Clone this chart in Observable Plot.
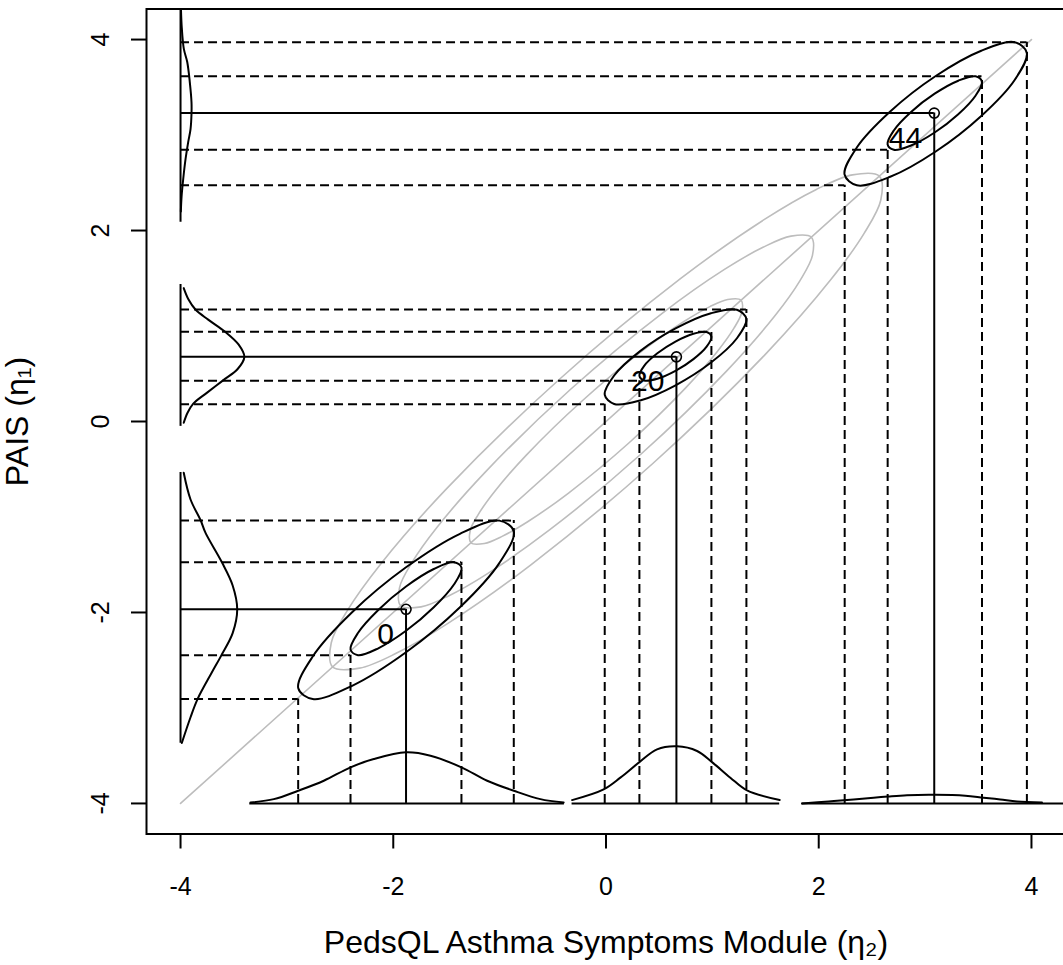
<!DOCTYPE html>
<html>
<head>
<meta charset="utf-8">
<script src="https://cdn.jsdelivr.net/npm/d3@7"></script>
<script src="https://cdn.jsdelivr.net/npm/@observablehq/plot@0.6"></script>
<style>
  html, body { margin: 0; padding: 0; background: #fff; overflow: hidden; }
</style>
</head>
<body>
<div id="chart"></div>
<script>
// ---------- data ----------
const groups   = ["0", "20", "44"];
const centerX  = [-1.880, 0.662, 3.086];
const centerY  = [-1.967, 0.677, 3.230];
const xOuterLo = [-2.894, -0.012, 2.244];
const xInnerLo = [-2.402,  0.314, 2.648];
const xInnerHi = [-1.359,  0.991, 3.535];
const xOuterHi = [-0.867,  1.320, 3.957];
const yOuterLo = [-2.906,  0.180, 2.474];
const yInnerLo = [-2.447,  0.428, 2.845];
const yInnerHi = [-1.474,  0.939, 3.615];
const yOuterHi = [-1.038,  1.173, 3.972];

const xTicks = [-4, -2, 0, 2, 4];
const yTicks = [-4, -2, 0, 2, 4];
const baseValue = -4;           // the density baselines sit on x = -4 and y = -4
const diagonal = [[-4, -4], [4, 4]];

// marginal densities along the left edge (y position, height)
const leftDensY = [
  [-0.537, -0.817, -1.037, -1.167, -1.477, -1.717, -1.967, -2.217, -2.457, -2.637, -2.907, -3.097, -3.367],
  [1.397, 1.277, 1.173, 1.067, 0.939, 0.807, 0.677, 0.547, 0.431, 0.302, 0.187, 0.092, -0.013],
  [4.32, 4.119, 3.902, 3.765, 3.555, 3.345, 3.220, 3.062, 2.926, 2.747, 2.537, 2.360, 2.200]
];
const leftDensH = [
  [0.03, 0.094, 0.19, 0.235, 0.39, 0.49, 0.533, 0.49, 0.38, 0.29, 0.16, 0.094, 0.012],
  [0.03, 0.075, 0.14, 0.26, 0.42, 0.545, 0.60, 0.535, 0.40, 0.25, 0.12, 0.066, 0.03],
  [0.004, 0.012, 0.031, 0.063, 0.087, 0.103, 0.103, 0.094, 0.072, 0.047, 0.025, 0.010, 0.003]
];
const leftBaseLo = [-3.370, -0.051, 2.086];
const leftBaseHi = [-0.534,  1.435, 4.400];

// marginal densities along the bottom edge (x position, height)
const bottomDensX = [
  [-3.342, -3.123, -2.894, -2.653, -2.402, -2.183, -1.879, -1.650, -1.359, -1.117, -0.867, -0.617, -0.398],
  [-0.319, -0.022, 0.135, 0.314, 0.480, 0.668, 0.856, 0.997, 1.169, 1.326, 1.633],
  [1.843, 2.093, 2.328, 2.516, 2.651, 2.830, 3.096, 3.378, 3.550, 3.707, 3.864, 4.099]
];
const bottomDensH = [
  [0.01, 0.045, 0.133, 0.238, 0.378, 0.465, 0.535, 0.50, 0.378, 0.238, 0.133, 0.045, 0.01],
  [0.035, 0.147, 0.27, 0.433, 0.567, 0.598, 0.549, 0.433, 0.27, 0.136, 0.035],
  [0.0, 0.02, 0.042, 0.06, 0.073, 0.087, 0.091, 0.081, 0.06, 0.042, 0.021, 0.01]
];
const bottomBaseLo = [-3.349, -0.319, 1.843];
const bottomBaseHi = [-0.391,  1.633, 4.400];

// black contours (outer and inner) around each time point
const outer0  = [[-0.867,-1.150],[-1.003,-1.038],[-1.373,-1.176],[-1.880,-1.527],[-2.387,-1.998],[-2.757,-2.461],[-2.893,-2.794],[-2.757,-2.906],[-2.387,-2.768],[-1.880,-2.417],[-1.373,-1.946],[-1.003,-1.483]];
const inner0  = [[-1.358,-1.531],[-1.428,-1.473],[-1.619,-1.545],[-1.880,-1.728],[-2.141,-1.974],[-2.332,-2.215],[-2.402,-2.389],[-2.332,-2.447],[-2.141,-2.375],[-1.880,-2.192],[-1.619,-1.946],[-1.428,-1.705]];
const outer20 = [[1.320,1.074],[1.231,1.170],[0.987,1.134],[0.654,0.975],[0.321,0.737],[0.077,0.482],[-0.012,0.280],[0.077,0.184],[0.321,0.220],[0.654,0.379],[0.987,0.617],[1.231,0.872]];
const inner20 = [[0.991,0.888],[0.946,0.937],[0.822,0.919],[0.653,0.837],[0.483,0.714],[0.359,0.583],[0.314,0.479],[0.359,0.430],[0.483,0.448],[0.653,0.530],[0.822,0.653],[0.946,0.784]];
const outer44 = [[3.957,3.860],[3.842,3.972],[3.528,3.883],[3.100,3.618],[2.672,3.246],[2.358,2.869],[2.243,2.586],[2.358,2.474],[2.672,2.563],[3.100,2.828],[3.528,3.200],[3.842,3.577]];
const inner44 = [[3.534,3.557],[3.474,3.615],[3.312,3.569],[3.090,3.433],[2.868,3.242],[2.706,3.048],[2.647,2.903],[2.706,2.845],[2.868,2.891],[3.090,3.027],[3.312,3.218],[3.474,3.412]];

// gray contours along the diagonal
const grayA = [[-2.57,-2.57],[-2.583,-2.317],[-2.428,-1.973],[-2.114,-1.486],[-1.498,-0.703],[-0.44,0.44],[0.703,1.498],[1.486,2.114],[1.973,2.428],[2.317,2.583],[2.57,2.57],[2.583,2.317],[2.428,1.973],[2.114,1.486],[1.498,0.703],[0.44,-0.44],[-0.703,-1.498],[-1.486,-2.114],[-1.973,-2.428],[-2.317,-2.583]];
const grayB = [[-1.93,-1.93],[-1.941,-1.739],[-1.824,-1.476],[-1.590,-1.110],[-1.133,-0.528],[-0.335,0.335],[0.528,1.133],[1.110,1.590],[1.476,1.824],[1.739,1.941],[1.93,1.93],[1.941,1.739],[1.824,1.476],[1.590,1.110],[1.133,0.528],[0.335,-0.335],[-0.528,-1.133],[-1.110,-1.590],[-1.476,-1.824],[-1.739,-1.941]];
const grayC = [[-1.27,-1.27],[-1.277,-1.144],[-1.203,-0.977],[-1.047,-0.733],[-0.749,-0.352],[-0.22,0.22],[0.352,0.749],[0.733,1.047],[0.977,1.203],[1.144,1.277],[1.27,1.27],[1.277,1.144],[1.203,0.977],[1.047,0.733],[0.749,0.352],[0.22,-0.22],[-0.352,-0.749],[-0.733,-1.047],[-0.977,-1.203],[-1.144,-1.277]];

// ---------- build tables ----------
const toRows = (arr, id) => arr.map(([x, y]) => ({x, y, id}));
const diagRows = toRows(diagonal, "d");
const grayRows = [...toRows(grayA, "A"), ...toRows(grayB, "B"), ...toRows(grayC, "C")];
const blackRows = [
  ...toRows(outer0, "o0"), ...toRows(inner0, "i0"),
  ...toRows(outer20, "o20"), ...toRows(inner20, "i20"),
  ...toRows(outer44, "o44"), ...toRows(inner44, "i44")
];
const leftRows = leftDensY.flatMap((ys, g) => ys.map((y, i) => ({x: baseValue + leftDensH[g][i], y, id: g})));
const bottomRows = bottomDensX.flatMap((xs, g) => xs.map((x, i) => ({x, y: baseValue + bottomDensH[g][i], id: g})));
const leftBase = groups.map((g, i) => ({x: baseValue, y1: leftBaseLo[i], y2: leftBaseHi[i]}));
const bottomBase = groups.map((g, i) => ({y: baseValue, x1: bottomBaseLo[i], x2: bottomBaseHi[i]}));

const hRules = [], vRules = [];
groups.forEach((g, i) => {
  const xs = [xOuterLo[i], xInnerLo[i], centerX[i], xInnerHi[i], xOuterHi[i]];
  const ys = [yOuterLo[i], yInnerLo[i], centerY[i], yInnerHi[i], yOuterHi[i]];
  xs.forEach((xv, k) => {
    const solid = k === 2;
    hRules.push({y: ys[k], x1: baseValue, x2: xv, solid});
    vRules.push({x: xv, y1: baseValue, y2: ys[k], solid});
  });
});
const centers = groups.map((g, i) => ({x: centerX[i], y: centerY[i], label: g}));

// ---------- styles ----------
const BLACK = "#000";
const GRAY = "#bdbdbd";
const DASH = "9,5";
const LW = 2;
const FONT = "'Liberation Sans', Arial, Helvetica, sans-serif";

const chart = Plot.plot({
  width: 1063,
  height: 965,
  marginLeft: 146,
  marginRight: -2,
  marginTop: 8.5,
  marginBottom: 131.5,
  style: {fontFamily: FONT, background: "#fff", color: "#000", overflow: "hidden"},
  x: {domain: [-4.32, 4.32], axis: null},
  y: {domain: [-4.32, 4.32], axis: null},
  marks: [
    // gray diagonal and gray contours
    Plot.line(diagRows, {x: "x", y: "y", stroke: GRAY, strokeWidth: 1.6}),
    Plot.line(grayRows, {x: "x", y: "y", z: "id", curve: "catmull-rom-closed", stroke: GRAY, strokeWidth: 1.6}),

    // dashed and solid guide lines
    Plot.ruleY(hRules.filter(d => !d.solid), {y: "y", x1: "x1", x2: "x2", stroke: BLACK, strokeWidth: LW, strokeDasharray: DASH}),
    Plot.ruleY(hRules.filter(d => d.solid), {y: "y", x1: "x1", x2: "x2", stroke: BLACK, strokeWidth: LW}),
    Plot.ruleX(vRules.filter(d => !d.solid), {x: "x", y1: "y1", y2: "y2", stroke: BLACK, strokeWidth: LW, strokeDasharray: DASH}),
    Plot.ruleX(vRules.filter(d => d.solid), {x: "x", y1: "y1", y2: "y2", stroke: BLACK, strokeWidth: LW}),

    // marginal densities
    Plot.ruleX(leftBase, {x: "x", y1: "y1", y2: "y2", stroke: BLACK, strokeWidth: LW, clip: true}),
    Plot.ruleY(bottomBase, {y: "y", x1: "x1", x2: "x2", stroke: BLACK, strokeWidth: LW, clip: true}),
    Plot.line(leftRows, {x: "x", y: "y", z: "id", curve: "catmull-rom", stroke: BLACK, strokeWidth: LW, clip: true}),
    Plot.line(bottomRows, {x: "x", y: "y", z: "id", curve: "catmull-rom", stroke: BLACK, strokeWidth: LW, clip: true}),

    // black contours
    Plot.line(blackRows, {x: "x", y: "y", z: "id", curve: "catmull-rom-closed", stroke: BLACK, strokeWidth: LW}),

    // centers and labels
    Plot.dot(centers, {x: "x", y: "y", r: 5, stroke: BLACK, strokeWidth: 1.6, fill: "none"}),
    Plot.text(centers, {x: "x", y: "y", text: "label", dx: -12, dy: 25, textAnchor: "end", lineAnchor: "middle", fontSize: 30, fill: BLACK}),

    // frame and axes
    Plot.frame({stroke: BLACK, strokeWidth: LW}),
    Plot.axisX({ticks: xTicks, tickSize: 15, tickFormat: () => "", stroke: BLACK, strokeWidth: LW, anchor: "bottom", label: null}),
    Plot.axisY({ticks: yTicks, tickSize: 15, tickFormat: () => "", stroke: BLACK, strokeWidth: LW, anchor: "left", label: null}),
    Plot.text(xTicks, {x: d => d, frameAnchor: "bottom", dy: 61, lineAnchor: "bottom", textAnchor: "middle", fontSize: 25, fill: BLACK, text: d => String(d)}),
    Plot.text(yTicks, {y: d => d, frameAnchor: "left", dx: -38, rotate: -90, lineAnchor: "bottom", textAnchor: "middle", fontSize: 25, fill: BLACK, text: d => String(d)}),
    Plot.text(["PedsQL Asthma Symptoms Module (η₂)"], {frameAnchor: "bottom", dy: 118.5, lineAnchor: "bottom", textAnchor: "middle", fontSize: 32, fill: BLACK, text: d => d}),
    Plot.text(["PAIS (η₁)"], {frameAnchor: "left", dx: -119, rotate: -90, lineAnchor: "bottom", textAnchor: "middle", fontSize: 32, fill: BLACK, text: d => d})
  ]
});
document.getElementById("chart").appendChild(chart);
</script>
</body>
</html>
